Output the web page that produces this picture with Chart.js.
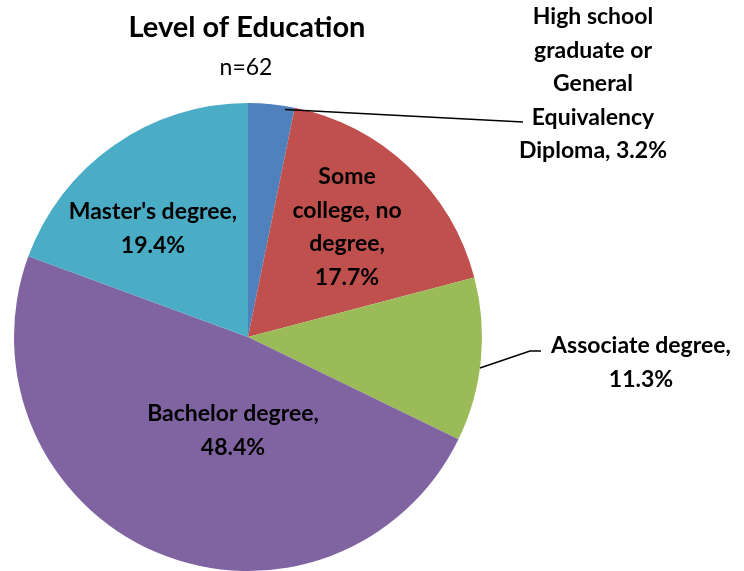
<!DOCTYPE html>
<html>
<head>
<meta charset="utf-8">
<script src="https://cdn.jsdelivr.net/npm/chart.js@4"></script>
<style>
  html, body { margin: 0; padding: 0; background: #fff; }
  #wrap { width: 744px; height: 571px; position: relative; }
</style>
</head>
<body>
<div id="wrap"><canvas id="chart-edu" width="744" height="571"></canvas></div>
<script>
// Level of education breakdown, n=62
const categories = ['High school graduate or General Equivalency Diploma', 'Some college, no degree', 'Associate degree', 'Bachelor degree', "Master's degree"];
const percents   = [3.2, 17.7, 11.3, 48.4, 19.4];
const colors     = ['#4f81bd', '#c0504d', '#9bbb59', '#8064a2', '#4bacc6'];

const FONT = 'Lato, "Liberation Sans", sans-serif';

// label text lines + where to put them (leader lines for the two outside labels)
const labelLayout = [
    { lines: ['High school', 'graduate or', 'General', 'Equivalency', 'Diploma, 3.2%'], x: 593, y: 17, leader: [[0.985, 0.8], [523, 122]] },
    { lines: ['Some', 'college, no', 'degree,', '17.7%'], x: 347, y: 177 },
    { lines: ['Associate degree,', '11.3%'], x: 641, y: 346, leader: [[1.0, 0.55], [530, 351], [541, 351]] },
    { lines: ['Bachelor degree,', '48.4%'], x: 233, y: 414 },
    { lines: ["Master's degree,", '19.4%'], x: 153, y: 212 }
];

const labelPlugin = {
    id: 'eduLabels',
    afterDraw(chart) {
        const c = chart.ctx;
        const meta = chart.getDatasetMeta(0);
        c.save();
        // heading
        c.fillStyle = '#000';
        c.textAlign = 'center';
        c.textBaseline = 'middle';
        c.font = 'bold 29px ' + FONT;
        c.fillText('Level of Education', 247, 28);
        c.font = '23px ' + FONT;
        c.fillText('n=62', 246, 68);

        c.font = 'bold 23px ' + FONT;
        meta.data.forEach((arc, i) => {
            const L = labelLayout[i];
            if (L.leader) {
                // first point sits on the arc edge, fraction through the slice
                const [rf, af] = L.leader[0];
                const ang = arc.startAngle + (arc.endAngle - arc.startAngle) * af;
                const r = arc.outerRadius * rf;
                c.beginPath();
                c.moveTo(arc.x + Math.cos(ang) * r, arc.y + Math.sin(ang) * r);
                L.leader.slice(1).forEach(p => c.lineTo(p[0], p[1]));
                c.strokeStyle = '#000';
                c.lineWidth = 1.5;
                c.stroke();
            }
            L.lines.forEach((t, k) => c.fillText(t, L.x, L.y + k * 33.5));
        });
        c.restore();
    }
};

new Chart(document.getElementById('chart-edu').getContext('2d'), {
    type: 'pie',
    data: {
        labels: categories,
        datasets: [{ data: percents, backgroundColor: colors, borderWidth: 0 }]
    },
    options: {
        responsive: false,
        animation: false,
        layout: { padding: { left: 14, top: 103, right: 262, bottom: 0 } },
        plugins: { legend: { display: false }, tooltip: { enabled: false }, title: { display: false } }
    },
    plugins: [labelPlugin]
});
</script>
</body>
</html>
